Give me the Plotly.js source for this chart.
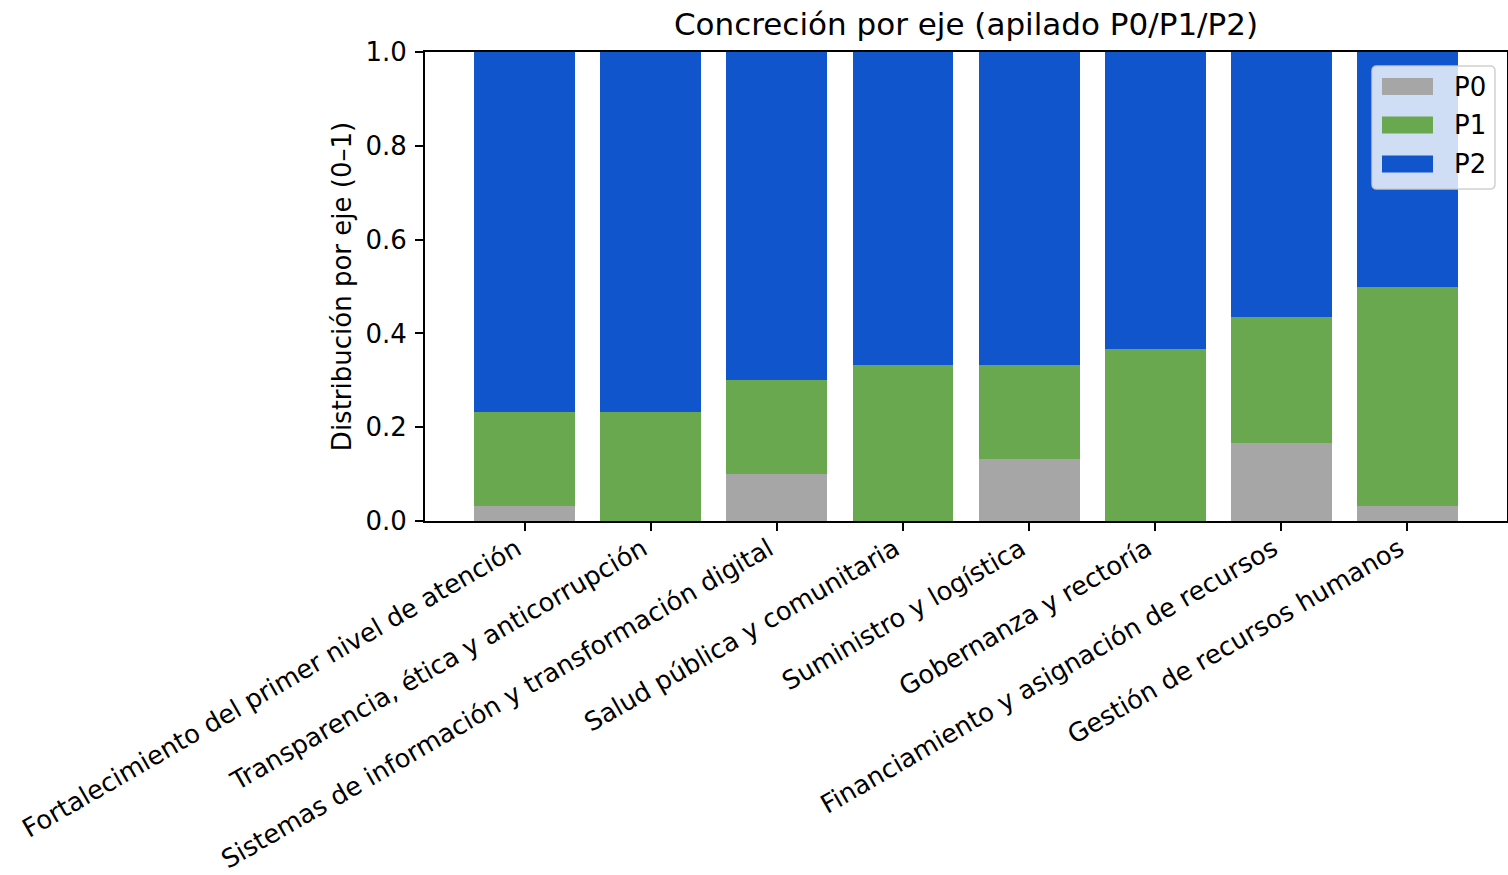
<!DOCTYPE html>
<html><head><meta charset="utf-8">
<script src="https://cdn.plot.ly/plotly-3.0.1.min.js"></script>
<style>html,body{margin:0;padding:0;background:#fff;}#chart{width:1508px;height:875px;}</style>
</head><body><div id="chart"></div>
<script>
const categories = [
  "Fortalecimiento del primer nivel de atención",
  "Transparencia, ética y anticorrupción",
  "Sistemas de información y transformación digital",
  "Salud pública y comunitaria",
  "Suministro y logística",
  "Gobernanza y rectoría",
  "Financiamiento y asignación de recursos",
  "Gestión de recursos humanos"
];
const seriesNames = ["P0", "P1", "P2"];
const p0 = [0.033, 0.0, 0.100, 0.0, 0.133, 0.0, 0.167, 0.033];
const p1 = [0.200, 0.233, 0.200, 0.333, 0.200, 0.367, 0.267, 0.467];
const p2 = [0.767, 0.767, 0.700, 0.667, 0.667, 0.633, 0.566, 0.500];
const colors = ["#a6a6a6", "#6aa84f", "#1155cc"];
const yTicks = [0, 0.2, 0.4, 0.6, 0.8, 1.0];

const W = 1508, H = 875;
const L = 425, R = 1507, T = 52, B = 521;
const font = "DejaVu Sans, sans-serif";
const fs = 26;

const vals = [p0, p1, p2];
const traces = vals.map((v, i) => ({
  type: "bar",
  x: categories.map((c, j) => j),
  y: v,
  name: seriesNames[i],
  marker: {color: colors[i], line: {width: 0}},
  width: 0.8,
  showlegend: false,
  hoverinfo: "y+name"
}));

const px = x => (x - L) / (R - L);
const py = y => (B - y) / (B - T);
const shapes = [];
const annotations = [];
const lx0 = 1372, lx1 = 1495, ly0 = 66, ly1 = 189, r = 5;
const path = `M ${px(lx0 + r)},${py(ly0)} L ${px(lx1 - r)},${py(ly0)} Q ${px(lx1)},${py(ly0)} ${px(lx1)},${py(ly0 + r)} ` +
  `L ${px(lx1)},${py(ly1 - r)} Q ${px(lx1)},${py(ly1)} ${px(lx1 - r)},${py(ly1)} ` +
  `L ${px(lx0 + r)},${py(ly1)} Q ${px(lx0)},${py(ly1)} ${px(lx0)},${py(ly1 - r)} ` +
  `L ${px(lx0)},${py(ly0 + r)} Q ${px(lx0)},${py(ly0)} ${px(lx0 + r)},${py(ly0)} Z`;
shapes.push({type: "path", xref: "paper", yref: "paper", path: path,
  fillcolor: "rgba(255,255,255,0.8)", line: {color: "rgba(204,204,204,0.9)", width: 1.5}, layer: "above"});
const centers = [86.5, 125, 164];
seriesNames.forEach((n, i) => {
  const cy = centers[i];
  shapes.push({type: "rect", xref: "paper", yref: "paper",
    x0: px(1382), x1: px(1433), y0: py(cy - 8.5), y1: py(cy + 8.5),
    fillcolor: colors[i], line: {width: 0}, layer: "above"});
  annotations.push({xref: "paper", yref: "paper", x: px(1452), y: py(cy),
    xanchor: "left", yanchor: "middle", showarrow: false, text: n,
    font: {family: font, size: fs, color: "#000"}});
});

const layout = {
  width: W, height: H,
  margin: {l: L, r: W - R, t: T, b: H - B, pad: 0},
  paper_bgcolor: "#fff", plot_bgcolor: "#fff",
  barmode: "stack",
  title: {text: "Concreción por eje (apilado P0/P1/P2)", x: (L + R) / 2 / W, xanchor: "center",
    y: 1 - 24 / H, yanchor: "middle", font: {family: font, size: 31, color: "#000"}},
  xaxis: {
    range: [-0.79, 7.79], tickmode: "array", tickvals: categories.map((c, j) => j), ticktext: categories,
    tickangle: -30, ticks: "outside", ticklen: 8, tickwidth: 2, tickcolor: "#000",
    showline: true, linecolor: "#000", linewidth: 2, mirror: true,
    showgrid: false, zeroline: false, automargin: false,
    ticklabelstandoff: -7, ticklabelshift: -8,
    tickfont: {family: font, size: 25.7, color: "#000"}
  },
  yaxis: {
    range: [0, 1], tickmode: "array", tickvals: yTicks, ticktext: yTicks.map(v => v.toFixed(1)),
    ticks: "outside", ticklen: 8, tickwidth: 2, tickcolor: "#000",
    showline: true, linecolor: "#000", linewidth: 2, mirror: true,
    showgrid: false, zeroline: false, automargin: false,
    ticklabelstandoff: 3,
    tickfont: {family: font, size: fs, color: "#000"},
    title: {text: "Distribución por eje (0–1)", standoff: 6, font: {family: font, size: fs, color: "#000"}}
  },
  shapes: shapes,
  annotations: annotations,
  showlegend: false
};
Plotly.newPlot("chart", traces, layout, {displayModeBar: false, staticPlot: true});
</script></body></html>
